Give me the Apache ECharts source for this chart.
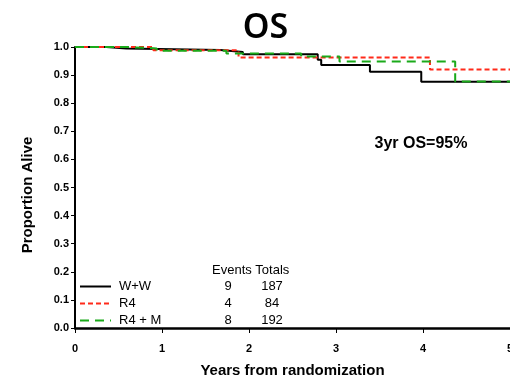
<!DOCTYPE html>
<html><head><meta charset="utf-8">
<script src="https://cdn.jsdelivr.net/npm/echarts@6/dist/echarts.min.js"></script>
<style>html,body{margin:0;padding:0;background:#fff}#c{width:510px;height:378px}</style>
</head><body><div id="c"></div>
<script>
var groups = ['W+W', 'R4', 'R4 + M'];
var events = [9, 4, 8];
var totals = [187, 84, 192];
var yTicks = ['0.0','0.1','0.2','0.3','0.4','0.5','0.6','0.7','0.8','0.9','1.0'];
var wwX = [0, 0.36, 0.59, 1.67, 1.93, 2.79, 2.83, 3.39, 3.98, 5];
var wwY = [1.0, 0.995, 0.989, 0.982, 0.974, 0.955, 0.936, 0.912, 0.876, 0.876];
var r4X = [0, 0.90, 1.88, 4.08, 5];
var r4Y = [1.0, 0.988, 0.963, 0.92, 0.92];
var rmX = [0, 0.59, 0.94, 1.74, 2.60, 3.04, 4.37, 5];
var rmY = [1.0, 0.995, 0.987, 0.977, 0.966, 0.948, 0.877, 0.877];

function pairs(xs, ys){ return xs.map(function(x,i){ return [x, ys[i]]; }); }

var chart = echarts.init(document.getElementById('c'));
var font = 'Liberation Sans, Arial, sans-serif';
var texts = [];
var colX = [228, 272];
texts.push({type:'text', x:212, y:270, style:{text:'Events Totals', font:'13px ' + font, fill:'#000', verticalAlign:'middle'}});
for (var i = 0; i < groups.length; i++) {
  texts.push({type:'text', x:colX[0], y:286 + i*17, style:{text:String(events[i]), font:'13px ' + font, fill:'#000', align:'center', verticalAlign:'middle'}});
  texts.push({type:'text', x:colX[1], y:286 + i*17, style:{text:String(totals[i]), font:'13px ' + font, fill:'#000', align:'center', verticalAlign:'middle'}});
}
texts.push({type:'text', x:421, y:144, style:{text:'3yr OS=95%', font:'bold 16px ' + font, fill:'#000', align:'center', verticalAlign:'middle'}});
texts.push({type:'text', x:28, y:195, rotation:Math.PI/2, style:{text:'Proportion Alive', font:'bold 15px ' + font, fill:'#000', align:'center', verticalAlign:'middle'}});

chart.setOption({
  animation: false,
  title: {text:'OS', left:260.5, top:6, textAlign:'center',
    textStyle:{fontFamily:'Noto Sans', fontWeight:600, fontSize:34, color:'#000'}},
  grid: {left:75, right:0, top:47, bottom:50, containLabel:false, outerBoundsMode:'none'},
  xAxis: {type:'value', min:0, max:5, interval:1,
    name:'Years from randomization', nameLocation:'middle', nameGap:35,
    nameTextStyle:{fontFamily:font, fontWeight:'bold', fontSize:15, color:'#000'},
    axisLine:{onZero:false, lineStyle:{color:'#000', width:2.5}},
    axisTick:{show:true, length:5, lineStyle:{color:'#000', width:1}},
    axisLabel:{fontFamily:font, fontWeight:'bold', fontSize:11, color:'#000', margin:15, showMaxLabel:true},
    splitLine:{show:false}},
  yAxis: {type:'value', min:0, max:1, interval:0.1,
    axisLine:{show:true, lineStyle:{color:'#000', width:2}},
    axisTick:{show:true, length:4, lineStyle:{color:'#000', width:1}},
    axisLabel:{fontFamily:font, fontWeight:'bold', fontSize:11, color:'#000', margin:6,
      formatter:function(v){ return yTicks[Math.round(v*10)]; }},
    splitLine:{show:false}},
  legend: {orient:'vertical', left:74, top:275, itemWidth:31, itemHeight:12, itemGap:4,
    itemStyle:{opacity:0},
    textStyle:{fontFamily:font, fontSize:13, color:'#000', padding:[0,0,0,3]},
    data: groups},
  graphic: texts,
  series: [
    {name:groups[0], type:'line', step:'end', symbol:'none', data:pairs(wwX, wwY), z:3,
      lineStyle:{color:'#000', width:2}, itemStyle:{color:'#000'}},
    {name:groups[1], type:'line', step:'end', symbol:'none', data:pairs(r4X, r4Y), z:4,
      lineStyle:{color:'#ff2a1a', width:2, type:[5,3]}, itemStyle:{color:'#ff2a1a'}},
    {name:groups[2], type:'line', step:'end', symbol:'none', data:pairs(rmX, rmY), z:5,
      lineStyle:{color:'#1aaa1a', width:2, type:[9,6]}, itemStyle:{color:'#1aaa1a'}}
  ]
});
</script></body></html>
